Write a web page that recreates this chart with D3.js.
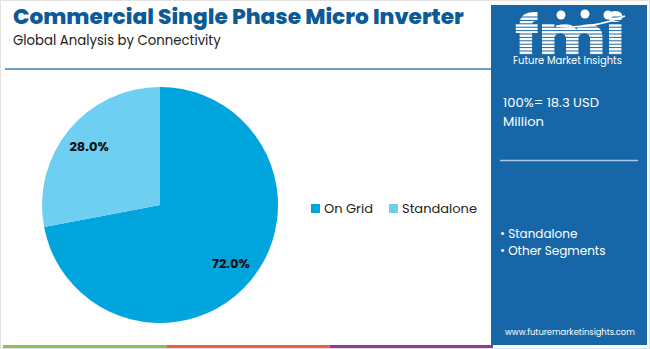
<!DOCTYPE html>
<html><head><meta charset="utf-8">
<script src="https://cdn.jsdelivr.net/npm/d3@7"></script>
<style>body{margin:0;background:#fff}svg{display:block}text{font-family:Poppins,"Open Sans",Roboto,sans-serif}</style>
</head><body><svg id="c" width="650" height="349"></svg>
<script>
const categories = ["On Grid", "Standalone"];
const values = [72.0, 28.0];
const colors = ["#00a5dd", "#6ecff3"];
const title = "Commercial Single Phase Micro Inverter";
const subtitle = "Global Analysis by Connectivity";
const totalLine1 = "100%= 18.3 USD";
const totalLine2 = "Million";
const segments = ["Standalone", "Other Segments"];
const website = "www.futuremarketinsights.com";

const svg = d3.select("#c");
const W = 650, H = 349;
svg.append("rect").attr("x",0.5).attr("y",0.5).attr("width",W-1).attr("height",H-1).attr("fill","#fff").attr("stroke","#e2e2e2");

function fit(sel, w){ const n=sel.node(); let fs=parseFloat(sel.attr("font-size")); const l=n.getComputedTextLength(); sel.attr("font-size", fs*w/l); }

const t = svg.append("text").attr("x",13).attr("y",24).attr("font-size",20).attr("font-weight",800).attr("fill","#0c5b97").text(title);
fit(t, 451);
const st = svg.append("text").attr("x",13).attr("y",45).attr("font-size",13).attr("fill","#222").text(subtitle);
fit(st, 208);

svg.append("line").attr("x1",5).attr("x2",492).attr("y1",69).attr("y2",69).attr("stroke","#3d80b8").attr("stroke-width",1.5);

// bottom color bar
const barX = d3.scaleLinear().domain([0,3]).range([3,493]);
["#8cc152","#e8643c","#8e3a96"].forEach((c,i)=>{
  svg.append("rect").attr("x",barX(i)).attr("y",345).attr("width",barX(i+1)-barX(i)).attr("height",3).attr("fill",c);
});

// pie
const cx=160, cy=205, R=118;
const pie = d3.pie().sort(null).value(d=>d)(values);
const arc = d3.arc().innerRadius(0).outerRadius(R);
const lab = d3.arc().innerRadius(R*0.78).outerRadius(R*0.78);
const g = svg.append("g").attr("transform",`translate(${cx},${cy})`);
g.selectAll("path").data(pie).join("path").attr("d",arc).attr("fill",(d,i)=>colors[i]);
g.selectAll("text").data(pie).join("text")
  .attr("transform",d=>{const c=lab.centroid(d);return `translate(${c[0]},${c[1]})`;})
  .attr("text-anchor","middle").attr("dy","0.35em").attr("font-size",13).attr("font-weight",700).attr("fill","#111")
  .text(d=>d.data.toFixed(1)+"%");

// legend
const legX=[311,389];
categories.forEach((c,i)=>{
  svg.append("rect").attr("x",legX[i]).attr("y",204).attr("width",9).attr("height",9).attr("fill",colors[i]);
  svg.append("text").attr("x",legX[i]+13).attr("y",213).attr("font-size",13).attr("fill","#222").text(c);
});

// sidebar
const sb = svg.append("g");
sb.append("rect").attr("x",491).attr("y",5).attr("width",156).attr("height",340).attr("fill","#1767a8");
sb.append("text").attr("x",515).attr("y",55).attr("font-size",54).attr("font-weight",800)
  .attr("font-family","'DejaVu Serif',serif").attr("fill","#fff")
  .attr("textLength",110).attr("lengthAdjust","spacingAndGlyphs").text("fmi");
for(let y=17;y<56;y+=3.4){ sb.append("line").attr("x1",510).attr("x2",632).attr("y1",y).attr("y2",y).attr("stroke","#1767a8").attr("stroke-width",1); }
// small icons over the logo
[[561,15],[585,14],[608,15]].forEach(([x,y])=>{
  sb.append("circle").attr("cx",x).attr("cy",y).attr("r",4.5).attr("fill","#fff");
});
sb.append("path").attr("d","M556,26 Q590,30 625,16").attr("fill","none").attr("stroke","#fff").attr("stroke-width",1.5);
const fm = sb.append("text").attr("x",513).attr("y",64).attr("font-size",9).attr("fill","#fff").text("Future Market Insights");
fit(fm,109);
const l1 = sb.append("text").attr("x",503).attr("y",107).attr("font-size",13).attr("fill","#fff").text(totalLine1);
fit(l1,96);
sb.append("text").attr("x",503).attr("y",126).attr("font-size",l1.attr("font-size")).attr("fill","#fff").text(totalLine2);
sb.append("line").attr("x1",500).attr("x2",638).attr("y1",160.5).attr("y2",160.5).attr("stroke","#a9c9e6").attr("stroke-width",1.5);
segments.forEach((s,i)=>{
  sb.append("text").attr("x",500).attr("y",238+i*17).attr("font-size",12).attr("fill","#fff").text("• "+s);
});
const ws = sb.append("text").attr("x",505).attr("y",335).attr("font-size",10).attr("fill","#fff").text(website);
fit(ws,130);
</script></body></html>
